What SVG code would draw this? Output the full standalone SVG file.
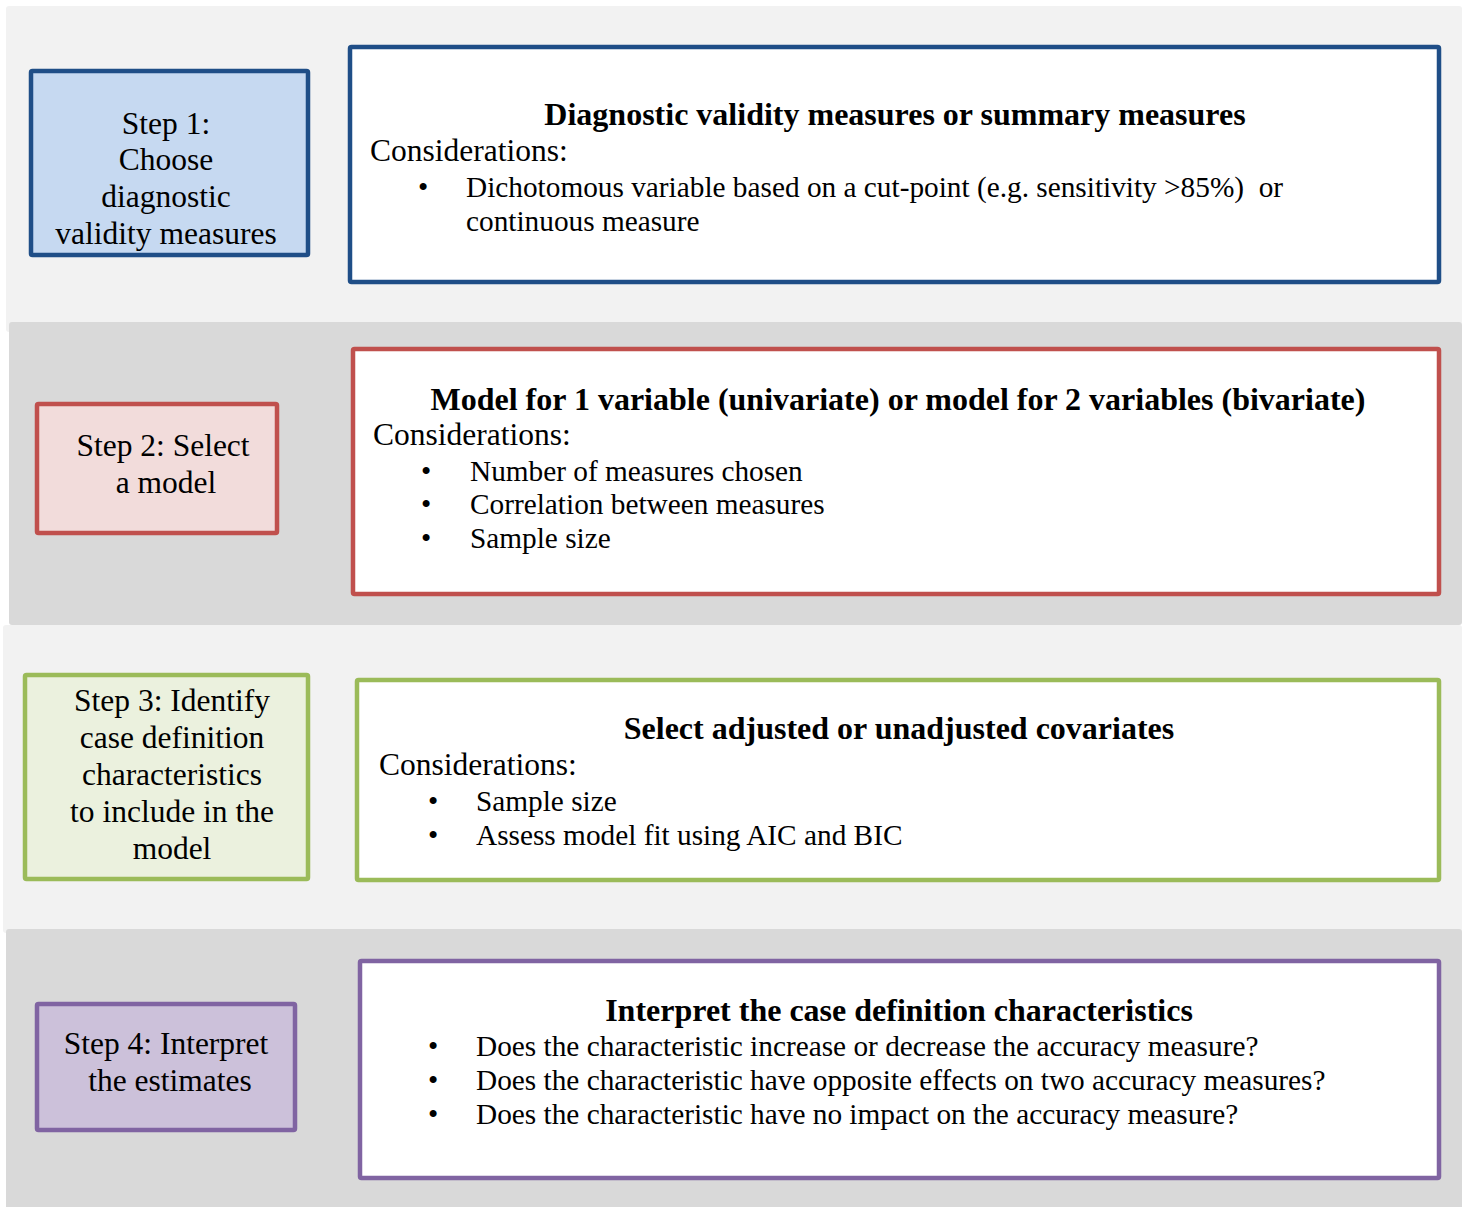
<svg xmlns="http://www.w3.org/2000/svg" width="1468" height="1207" viewBox="0 0 1468 1207">
<style>
  text { font-family: "Liberation Serif", "Times New Roman", serif; font-size: 31.5px; fill: #000; }
  .c { text-anchor: middle; }
  .t { font-weight: bold; text-anchor: middle; font-size: 32px; }
  .b { font-size: 29.3px; }
  .band1 { fill: #f2f2f2; }
  .band2 { fill: #d9d9d9; }
  .step { stroke-width: 4.5; }
  .det { fill: #ffffff; stroke-width: 4.5; }
  .blue { stroke: #1f4e87; }
  .red { stroke: #c0504d; }
  .green { stroke: #9bbb59; }
  .purple { stroke: #8064a2; }
</style>
<rect width="1468" height="1207" fill="#ffffff"/>
<g id="bands">
  <rect class="band1" x="6" y="6" width="1456" height="326" rx="3"/>
  <rect class="band2" x="9" y="322" width="1453" height="303" rx="3"/>
  <rect class="band1" x="3" y="625" width="1459" height="308" rx="3"/>
  <rect class="band2" x="6" y="929" width="1456" height="285" rx="3"/>
</g>
<g id="step1">
  <rect class="step blue" x="31" y="71" width="277" height="184" rx="1.5" fill="#c6d9f1"/>
  <text class="c" x="166" y="134">Step 1:</text>
  <text class="c" x="166" y="170">Choose</text>
  <text class="c" x="166" y="207">diagnostic</text>
  <text class="c" x="166" y="244">validity measures</text>
</g>
<g id="detail1">
  <rect class="det blue" x="350" y="47" width="1089" height="235" rx="1.5"/>
  <text class="t" x="895" y="125">Diagnostic validity measures or summary measures</text>
  <text x="370" y="161">Considerations:</text>
  <text class="b" x="418" y="197">•</text>
  <text class="b" x="466" y="197" xml:space="preserve">Dichotomous variable based on a cut-point (e.g. sensitivity &gt;85%)  or</text>
  <text class="b" x="466" y="231">continuous measure</text>
</g>
<g id="step2">
  <rect class="step red" x="37" y="404" width="240" height="129" rx="1.5" fill="#f2dcdb"/>
  <text class="c" x="163" y="456">Step 2: Select</text>
  <text class="c" x="166" y="493">a model</text>
</g>
<g id="detail2">
  <rect class="det red" x="353" y="349" width="1086" height="245" rx="1.5"/>
  <text class="t" x="898" y="410">Model for 1 variable (univariate) or model for 2 variables (bivariate)</text>
  <text x="373" y="445">Considerations:</text>
  <text class="b" x="421" y="481">•</text>
  <text class="b" x="470" y="481">Number of measures chosen</text>
  <text class="b" x="421" y="514">•</text>
  <text class="b" x="470" y="514">Correlation between measures</text>
  <text class="b" x="421" y="548">•</text>
  <text class="b" x="470" y="548">Sample size</text>
</g>
<g id="step3">
  <rect class="step green" x="25" y="675" width="283" height="204" rx="1.5" fill="#ebf1de"/>
  <text class="c" x="172" y="711">Step 3: Identify</text>
  <text class="c" x="172" y="748">case definition</text>
  <text class="c" x="172" y="785">characteristics</text>
  <text class="c" x="172" y="822">to include in the</text>
  <text class="c" x="172" y="859">model</text>
</g>
<g id="detail3">
  <rect class="det green" x="357" y="680" width="1082" height="200" rx="1.5"/>
  <text class="t" x="899" y="739">Select adjusted or unadjusted covariates</text>
  <text x="379" y="775">Considerations:</text>
  <text class="b" x="428" y="811">•</text>
  <text class="b" x="476" y="811">Sample size</text>
  <text class="b" x="428" y="845">•</text>
  <text class="b" x="476" y="845">Assess model fit using AIC and BIC</text>
</g>
<g id="step4">
  <rect class="step purple" x="37" y="1004" width="258" height="126" rx="1.5" fill="#ccc1da"/>
  <text class="c" x="166" y="1054">Step 4: Interpret</text>
  <text class="c" x="170" y="1091">the estimates</text>
</g>
<g id="detail4">
  <rect class="det purple" x="360" y="961" width="1079" height="217" rx="1.5"/>
  <text class="t" x="899" y="1021">Interpret the case definition characteristics</text>
  <text class="b" x="428" y="1056">•</text>
  <text class="b" x="476" y="1056">Does the characteristic increase or decrease the accuracy measure?</text>
  <text class="b" x="428" y="1090">•</text>
  <text class="b" x="476" y="1090">Does the characteristic have opposite effects on two accuracy measures?</text>
  <text class="b" x="428" y="1124">•</text>
  <text class="b" x="476" y="1124">Does the characteristic have no impact on the accuracy measure?</text>
</g>
<g id="connectors"></g>
</svg>
